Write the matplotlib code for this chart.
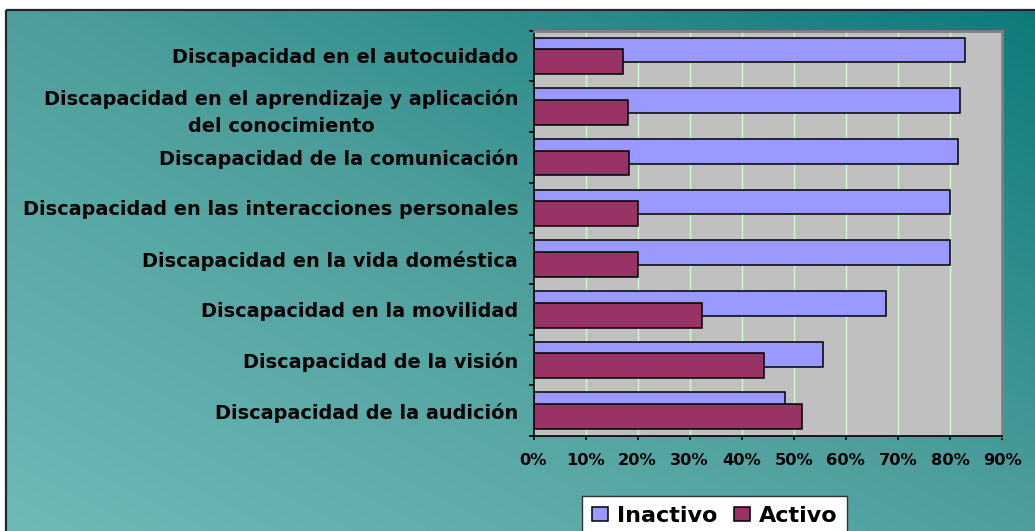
import numpy as np
import matplotlib
matplotlib.use("Agg")
import matplotlib.pyplot as plt
from matplotlib.colors import LinearSegmentedColormap
from matplotlib.patches import Rectangle

# ---------------- data ----------------
categorias = [
    "Discapacidad en el autocuidado",
    "Discapacidad en el aprendizaje y aplicación\ndel conocimiento",
    "Discapacidad de la comunicación",
    "Discapacidad en las interacciones personales",
    "Discapacidad en la vida doméstica",
    "Discapacidad en la movilidad",
    "Discapacidad de la visión",
    "Discapacidad de la audición",
]
inactivo = [82.9, 81.9, 81.6, 80.0, 80.0, 67.7, 55.7, 48.4]
activo = [17.1, 18.1, 18.4, 20.0, 20.0, 32.3, 44.3, 51.6]
series_names = ["Inactivo", "Activo"]
xticks_vals = [0, 10, 20, 30, 40, 50, 60, 70, 80, 90]
xtick_labels = ["0%", "10%", "20%", "30%", "40%", "50%", "60%", "70%", "80%", "90%"]

W, H = 1035, 531
fig = plt.figure(figsize=(W / 100, H / 100), dpi=100)
fig.patch.set_facecolor("white")

# ---------------- background gradient frame ----------------
bg = fig.add_axes([0, 0, 1, 1], zorder=0)
bg.set_xlim(0, W)
bg.set_ylim(H, 0)
bg.axis("off")
gx = np.linspace(0, 1, 400)
gy = np.linspace(0, 1, 200)
GX, GY = np.meshgrid(gx, gy)          # GY: 0 at top row
t = (GX + GY) / 2.0                    # 0 top-left .. 1 bottom-right
# top-right dark, bottom-left light
t = (GX + (1 - GY)) / 2.0              # 0 bottom-left -> 1 top-right
cmap = LinearSegmentedColormap.from_list(
    "bgteal", [(0.0, "#6DBAB7"), (0.5, "#4E9F9C"), (1.0, "#0E7B7B")])
bg.imshow(t, cmap=cmap, extent=(6, W, H, 10), aspect="auto",
          interpolation="bilinear", zorder=0)
bg.add_patch(Rectangle((6, 10), W + 20, H + 20, fill=False,
                       edgecolor="#1b2b2b", lw=1.6, zorder=1))

# ---------------- main axes ----------------
left, right, top, bottom = 533.5, 1002.0, 30.5, 436.0
ax = fig.add_axes([left / W, 1 - bottom / H, (right - left) / W, (bottom - top) / H],
                  zorder=2)
ax.set_facecolor("#C0C0C0")

n = len(categorias)
y = np.arange(n)
off = 0.115
bh = 0.49
b1 = ax.barh(y - off, np.array(inactivo) / 100, height=bh, color="#9999FF",
             edgecolor="black", lw=1.1, zorder=2, label=series_names[0])
b2 = ax.barh(y + off, np.array(activo) / 100, height=bh, color="#993366",
             edgecolor="black", lw=1.1, zorder=3, label=series_names[1])

ax.set_xlim(0, 0.9)
ax.set_ylim(n - 0.5, -0.5)
ax.set_xticks(np.array(xticks_vals) / 100)
ax.set_xticklabels(xtick_labels, fontsize=11.7, fontweight="bold")
ax.xaxis.grid(True, color="#CCFFCC", lw=1.0)
ax.set_axisbelow(True)

ax.set_yticks(y)
ax.set_yticklabels(categorias, fontsize=13.9, fontweight="bold")
for lbl in ax.get_yticklabels():
    lbl.set_multialignment("center")
    lbl.set_linespacing(1.5)
ax.set_yticks(np.arange(-0.5, n, 1), minor=True)
ax.tick_params(axis="y", which="major", length=0, pad=11)
ax.tick_params(axis="y", which="minor", length=3.6, width=1.2, color="black")
ax.tick_params(axis="x", which="major", length=2.9, width=1.2, pad=9.2,
               color="black")

for s in ("left", "bottom"):
    ax.spines[s].set_color("black")
    ax.spines[s].set_linewidth(1.2)
for s in ("top", "right"):
    ax.spines[s].set_color("#808080")
    ax.spines[s].set_linewidth(2)

# ---------------- legend ----------------
leg = fig.legend(handles=[b1, b2], labels=series_names, loc="upper left",
                 bbox_to_anchor=(581.7 / W, 1 - 496 / H), ncol=2,
                 prop={"size": 16, "weight": "bold"}, frameon=True,
                 fancybox=False, shadow=False, framealpha=1,
                 facecolor="white", edgecolor="#333333", borderpad=0.45,
                 handlelength=0.72, handleheight=0.62, handletextpad=0.4,
                 columnspacing=0.75, borderaxespad=0)
leg.get_frame().set_linewidth(1.0)
leg.set_zorder(5)

fig.savefig("out.png", dpi=100)
